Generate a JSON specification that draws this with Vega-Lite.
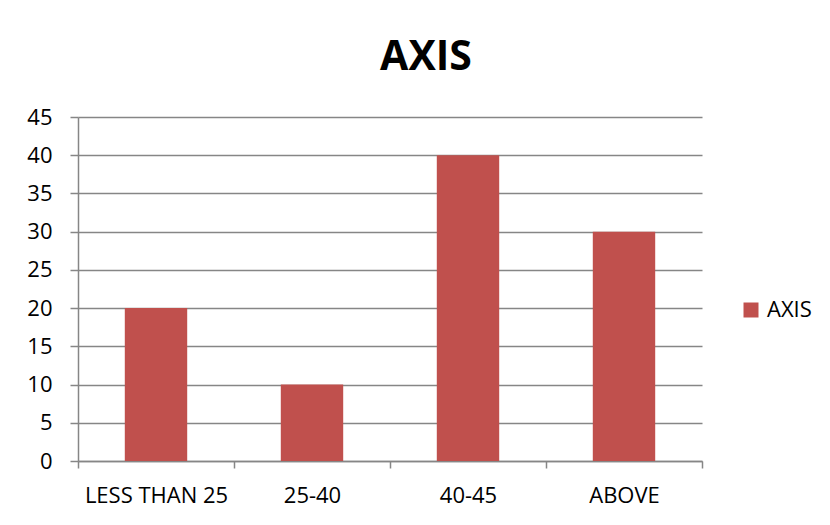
{
  "$schema": "https://vega.github.io/schema/vega-lite/v6.json",
  "width": 624,
  "height": 344,
  "autosize": {"type": "none"},
  "padding": {"left": 78, "top": 117, "right": 128, "bottom": 64},
  "background": "white",
  "title": {
    "text": "AXIS",
    "font": "Open Sans",
    "fontSize": 41,
    "fontWeight": "bold",
    "color": "black",
    "anchor": "middle",
    "dx": 36,
    "offset": 27
  },
  "data": {
    "values": [
      {"category": "LESS THAN 25", "value": 20, "series": "AXIS"},
      {"category": "25-40", "value": 10, "series": "AXIS"},
      {"category": "40-45", "value": 40, "series": "AXIS"},
      {"category": "ABOVE", "value": 30, "series": "AXIS"}
    ]
  },
  "mark": {"type": "bar", "width": {"band": 0.4}},
  "encoding": {
    "x": {
      "field": "category",
      "type": "nominal",
      "sort": null,
      "scale": {"paddingInner": 0, "paddingOuter": 0},
      "axis": {
        "title": null,
        "labelAngle": 0,
        "tickBand": "extent",
        "tickSize": 7,
        "tickColor": "#868686",
        "tickWidth": 1.5,
        "domainColor": "#868686",
        "domainWidth": 1.5,
        "labelFont": "Open Sans",
        "labelFontSize": 22,
        "labelColor": "black",
        "labelPadding": 17,
        "grid": false
      }
    },
    "y": {
      "field": "value",
      "type": "quantitative",
      "scale": {"domain": [0, 45], "nice": false},
      "axis": {
        "title": null,
        "values": [0, 5, 10, 15, 20, 25, 30, 35, 40, 45],
        "grid": true,
        "gridColor": "#868686",
        "gridWidth": 1.5,
        "tickSize": 8,
        "tickColor": "#868686",
        "tickWidth": 1.5,
        "domainColor": "#868686",
        "domainWidth": 1.5,
        "labelFont": "Open Sans",
        "labelFontSize": 22,
        "labelColor": "black",
        "labelPadding": 18
      }
    },
    "color": {
      "field": "series",
      "type": "nominal",
      "scale": {"range": ["#C0504D"]},
      "legend": {
        "title": null,
        "orient": "none",
        "legendX": 662,
        "legendY": 182,
        "symbolType": "square",
        "symbolSize": 225,
        "symbolStrokeWidth": 0,
        "labelFont": "Open Sans",
        "labelFontSize": 22,
        "labelColor": "black",
        "labelOffset": 5
      }
    }
  },
  "config": {"view": {"stroke": null}}
}
